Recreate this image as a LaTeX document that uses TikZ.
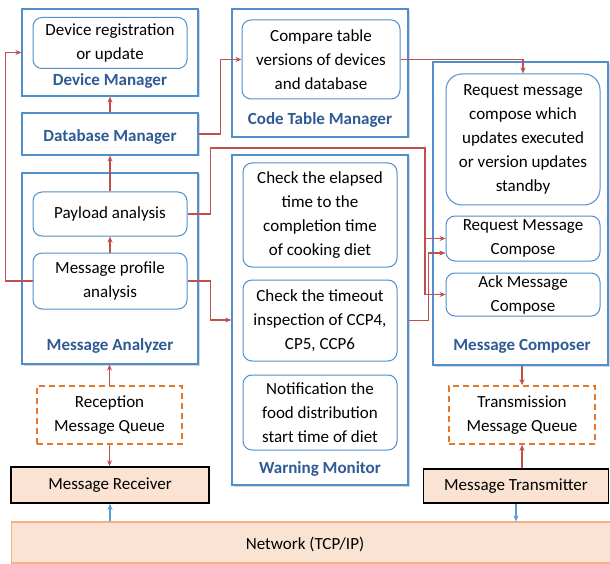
\documentclass[tikz,border=0pt]{standalone}
\usepackage{fontspec}
\setmainfont{Carlito}
\usetikzlibrary{arrows.meta,shadows}
\definecolor{bbox}{HTML}{4F8FCB}
\definecolor{lbl}{HTML}{2F5A94}
\definecolor{rline}{HTML}{C0504D}
\definecolor{oq}{HTML}{E4782A}
\definecolor{peach}{HTML}{FBE3D3}
\definecolor{bline}{HTML}{5B9BD5}
\definecolor{netb}{HTML}{F4B183}
\begin{document}
\begin{tikzpicture}[x=1pt,y=-1pt,
  font=\fontsize{17}{24}\selectfont,
  outer/.style={draw=bbox, line width=1.2pt, fill=white,
    drop shadow={opacity=0.3,shadow xshift=1.5pt,shadow yshift=-1.5pt}, inner sep=0pt},
  inbox/.style={draw=bbox, line width=1pt, rounded corners=9pt, inner sep=0pt, align=center, fill=white},
  lab/.style={font=\fontsize{17}{20}\selectfont\bfseries, text=lbl, anchor=base},
  queuebox/.style={draw=oq, dash pattern=on 6pt off 4pt, line width=1.6pt, inner sep=0pt, align=center, fill=white},
  iobox/.style={draw=black, line width=1.6pt, fill=peach, inner sep=0pt},
  netbox/.style={draw=netb, line width=1.2pt, fill=peach, inner sep=0pt},
  rarr/.style={draw=rline, line width=1.1pt, -{Stealth[length=6pt,width=5pt]}},
  barr/.style={draw=bline, line width=1.1pt, -{Stealth[length=6pt,width=5pt]}},
]
\fill[white] (0,0) rectangle (610,564);
\useasboundingbox (0,0) rectangle (610,564);

% Device Manager
\node[outer, minimum width=176pt, minimum height=87pt] (devo) at (110,52.5) {};
\node[inbox, minimum width=154pt, minimum height=51pt] (dev) at (110,43) {Device registration\\or update};
\node[lab] (devl) at (110,86) {Device Manager};

% Database Manager
\node[outer, minimum width=176pt, minimum height=42pt] (db) at (110,134) {};
\node[lab] (dbl) at (110,142) {Database Manager};

% Message Analyzer
\node[outer, minimum width=176pt, minimum height=191pt] (mao) at (110,268.5) {};
\node[inbox, minimum width=154pt, minimum height=44pt] (pay) at (110,214) {Payload analysis};
\node[inbox, minimum width=154pt, minimum height=56pt] (prof) at (110,281) {Message profile\\analysis};
\node[lab] (mal) at (110,350) {Message Analyzer};

% Code Table Manager
\node[outer, minimum width=176pt, minimum height=128pt] (cto) at (320,73) {};
\node[inbox, minimum width=158pt, minimum height=79pt] (cti) at (321,59.5) {Compare table\\versions of devices\\and database};
\node[lab] (ctl) at (320,125) {Code Table Manager};

% Warning Monitor
\node[outer, minimum width=176pt, minimum height=330pt] (wmo) at (320,320) {};
\node[inbox, minimum width=154pt, minimum height=104pt] (elap) at (320,215) {Check the elapsed\\time to the\\completion time\\of cooking diet};
\node[inbox, minimum width=154pt, minimum height=81pt] (tmo) at (320,320.5) {Check the timeout\\inspection of CCP4,\\CP5, CCP6};
\node[inbox, minimum width=154pt, minimum height=75pt] (notif) at (320,412.5) {Notification the\\food distribution\\start time of diet};
\node[lab] (wml) at (320,473) {Warning Monitor};

% Message Composer
\node[outer, minimum width=175pt, minimum height=303pt] (mco) at (520.5,213.5) {};
\node[inbox, minimum width=154pt, minimum height=131pt, rounded corners=16pt] (big) at (523,139.5) {Request message\\compose which\\updates executed\\or version updates\\standby};
\node[inbox, minimum width=154pt, minimum height=45pt] (req) at (523,238.5) {Request Message\\Compose};
\node[inbox, minimum width=154pt, minimum height=43pt] (ack) at (523,294.5) {Ack Message\\Compose};
\node[lab] (mcl) at (522,350) {Message Composer};

% Queues
\node[queuebox, minimum width=145pt, minimum height=58pt] (rq) at (109.5,415) {Reception\\Message Queue};
\node[queuebox, minimum width=146pt, minimum height=58pt] (tq) at (522,415) {Transmission\\Message Queue};

% Receiver / Transmitter
\node[iobox, minimum width=198pt, minimum height=36pt] (rcv) at (110,485) {Message Receiver};
\node[iobox, minimum width=185pt, minimum height=34pt] (tx) at (516,486) {Message Transmitter};

% Network
\node[netbox, minimum width=610pt, minimum height=41pt, anchor=west] (net) at (11,542.5) {};
\node (nett) at (305,544) {Network (TCP/IP)};

% Connectors
\draw[rarr] (db.north) -- (devo.south);
\draw[rarr] (pay.north) -- (db.south);
\draw[rarr] (prof.north) -- (pay.south);
\draw[rarr] (prof.west) -- ++(-27,0) |- (devo.west);
\draw[rarr] (db.east) -- ++(22,0) |- (cti.west);
\draw[rarr] (cti.east) -| (big.north);
\draw[rarr] (pay.east) -- ++(23,0) |- (425,148) |- (req.west);
\draw[rarr] (req.west -| 425,0) |- (ack.west);
\draw[rarr] (wmo.east |- tmo.east) -- ++(20,0) |- ([yshift=-14.5pt]req.west);
\draw[rarr] (prof.east) -- ++(23,0) |- (wmo.west);
\draw[rarr] (rq.north) -- (rq.north |- mao.south);
\draw[rarr] (rq.south) -- (rq.south |- rcv.north);
\draw[barr] (rcv.south |- net.north) -- (rcv.south);
\draw[rarr] (tq.north |- mco.south) -- (tq.north);
\draw[rarr] (tq.south |- tx.north) -- (tq.south);
\draw[barr] (tx.south) -- (tx.south |- net.north);
\end{tikzpicture}
\end{document}
